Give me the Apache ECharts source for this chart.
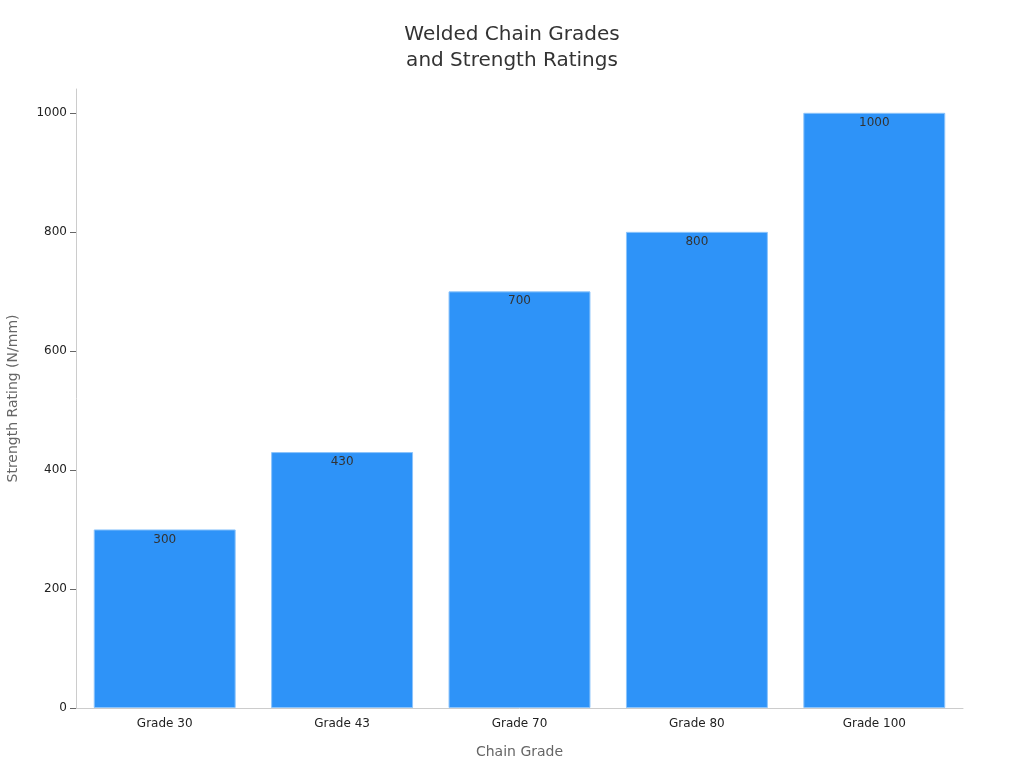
<!DOCTYPE html>
<html><head><meta charset="utf-8">
<script src="https://cdn.jsdelivr.net/npm/echarts@6/dist/echarts.min.js"></script>
<style>html,body{margin:0;padding:0;background:#fff}#c{width:1024px;height:768px}</style>
</head><body><div id="c"></div>
<script>
const categories = ['Grade 30','Grade 43','Grade 70','Grade 80','Grade 100'];
const strengthValues = [300, 430, 700, 800, 1000];
const yTicks = [0, 200, 400, 600, 800, 1000];

const chart = echarts.init(document.getElementById('c'));
chart.setOption({
  backgroundColor: '#fff',
  textStyle: { fontFamily: 'DejaVu Sans' },
  title: {
    text: 'Welded Chain Grades\nand Strength Ratings',
    left: 'center', top: 17,
    textStyle: { fontSize: 20, fontWeight: 'normal', color: '#333', lineHeight: 26, fontFamily: 'DejaVu Sans' }
  },
  grid: { left: 76, right: 61, top: 89, bottom: 60, containLabel: false, outerBoundsMode: 'none' },
  xAxis: {
    type: 'category', data: categories,
    name: 'Chain Grade', nameLocation: 'middle', nameGap: 37,
    nameTextStyle: { fontSize: 14, color: '#666' },
    axisLine: { lineStyle: { color: '#ccc' } },
    axisTick: { alignWithLabel: true, lineStyle: { color: '#666' } },
    axisLabel: { fontSize: 12, color: '#222', margin: 10 }
  },
  yAxis: {
    type: 'value', min: 0, max: 1040,
    name: 'Strength Rating (N/mm)', nameLocation: 'middle', nameGap: 56,
    nameTextStyle: { fontSize: 14, color: '#666' },
    axisLine: { show: true, lineStyle: { color: '#ccc' } },
    axisTick: { show: true, length: 6, customValues: yTicks, lineStyle: { color: '#666' } },
    splitLine: { show: false },
    axisLabel: { fontSize: 12, color: '#222', margin: 9, customValues: yTicks, formatter: v => String(v) }
  },
  series: [{
    type: 'bar', data: strengthValues, barWidth: '80%',
    itemStyle: { color: '#2E93F8', borderColor: '#8cc4fb', borderWidth: 1 },
    label: { show: true, position: 'insideTop', distance: 4, fontSize: 12, color: '#333' }
  }]
});
</script></body></html>
